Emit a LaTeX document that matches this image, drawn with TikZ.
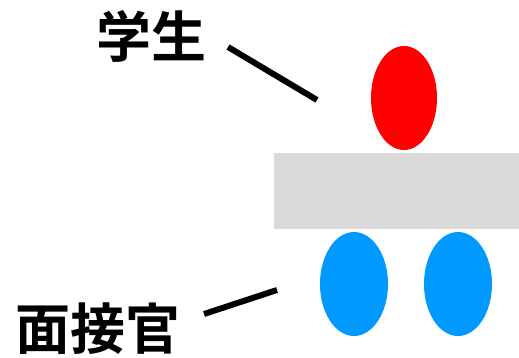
\documentclass[tikz,border=0pt]{standalone}
\usepackage{fontspec}
\usetikzlibrary{shapes.geometric}
\newfontfamily\jpfont{Noto Sans CJK JP}[BoldFont={Noto Sans CJK JP Bold}]
\definecolor{studentred}{HTML}{FF0000}
\definecolor{staffblue}{HTML}{0099FF}
\definecolor{tablegray}{HTML}{D9D9D9}
\begin{document}
\begin{tikzpicture}[x=1pt, y=-1pt,
		person/.style={ellipse, inner sep=0pt, minimum width=66pt, minimum height=104pt},
		desk/.style={rectangle, inner sep=0pt, minimum width=245pt, minimum height=76pt, fill=tablegray},
		lbl/.style={inner sep=0pt, font=\jpfont\bfseries\fontsize{55}{55}\selectfont},
		pointer/.style={line width=6pt}]
		\useasboundingbox (0, 0) rectangle (519, 357);
		
		\node[person, fill=studentred] (student) at (404, 98) {};
		\node[desk] (table) at (396.5, 191) {};
		\node[person, fill=staffblue, minimum width=68pt] (staff1) at (354, 284) {};
		\node[person, fill=staffblue, minimum width=68pt] (staff2) at (458, 284) {};
		
		\node[lbl] (studentlbl) at (151, 36) {学生};
		\node[lbl] (stafflbl) at (98, 329) {面接官};
		
		\coordinate (s1) at (228, 47);
		\coordinate (s2) at (317, 100);
		\coordinate (f1) at (204, 314);
		\coordinate (f2) at (277, 290);
		\draw[pointer] (s1) -- (s2);
		\draw[pointer] (f1) -- (f2);
		
	\end{tikzpicture}
\end{document}
